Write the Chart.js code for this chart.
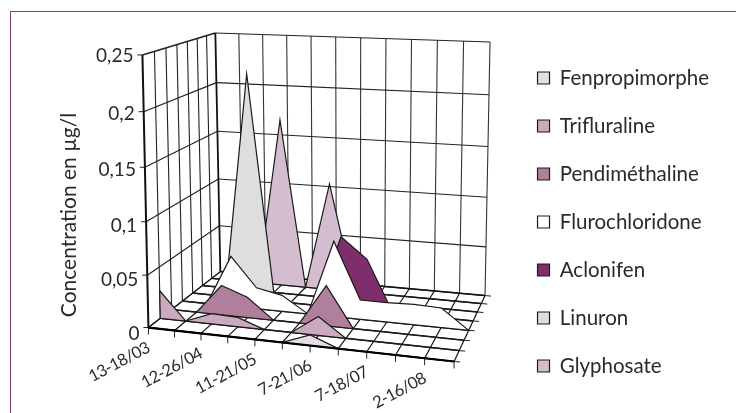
<!DOCTYPE html>
<html>
<head>
<meta charset="utf-8">
<style>
  body { margin: 0; background: #fff; }
  #frame { position: absolute; left: 10px; top: 11px; right: 0; bottom: -2px; border-left: 1px solid #8e3d7e; border-top: 1px solid #8e3d7e; }
  canvas { position: absolute; left: 0; top: 0; }
</style>
<script src="https://cdn.jsdelivr.net/npm/chart.js@4/dist/chart.umd.min.js"></script>
</head>
<body>
<div id="frame"></div>
<canvas id="chart" width="736" height="413"></canvas>
<script>
const categoryLabels = ['13-18/03', '', '12-26/04', '', '11-21/05', '', '7-21/06', '', '7-18/07', '', '2-16/08', ''];
const valueTicks = [0, 0.05, 0.1, 0.15, 0.2, 0.25];
const valueTickLabels = ['0', '0,05', '0,1', '0,15', '0,2', '0,25'];

const seriesNames = ['Fenpropimorphe', 'Trifluraline', 'Pendiméthaline', 'Flurochloridone', 'Aclonifen', 'Linuron', 'Glyphosate'];
const seriesColors = ['#e8dce6', '#cba9bf', '#b07f9e', '#ffffff', '#7e2f6b', '#dedede', '#d5bdd0'];

const fenpropimorphe = [0, 0, 0, 0, 0, 0, 0.01, 0, 0, 0, 0, 0];
const trifluraline = [0.027, 0, 0.01, 0.009, 0, 0, 0.018, 0, 0, 0, 0, 0];
const pendimethaline = [0, 0, 0.029, 0.02, 0, 0, 0.039, 0, 0, 0, 0, 0];
const flurochloridone = [0, 0, 0.05, 0.021, 0.016, 0, 0.074, 0.019, 0.019, 0.02, 0.019, 0];
const aclonifen = [0, 0, 0, 0, 0, 0, 0.071, 0.051, 0, 0, 0, 0];
const linuron = [0, 0, 0.218, 0, 0, 0, 0, 0, 0, 0, 0, 0];
const glyphosate = [0, 0, 0, 0.17, 0, 0.109, 0, 0, 0, 0, 0, 0];
const seriesValues = [fenpropimorphe, trifluraline, pendimethaline, flurochloridone, aclonifen, linuron, glyphosate];

const maxValue = 0.25;
const nCat = categoryLabels.length;
const nSer = seriesNames.length;

// box corners on the page: front-left, front-right, back-right, back-left
const floorCorners = [[148, 328], [454, 362], [485, 296], [220, 272]];
const topCorners = [[142, 55], [458, 76], [490, 42], [215, 33]];

function corner(q, u, v) {
    const lerp = (a, b, t) => a + (b - a) * t;
    return [0, 1].map(i => lerp(lerp(q[0][i], q[1][i], u), lerp(q[3][i], q[2][i], u), v));
}

// slight perspective squeeze on each of the three directions
function project(cat, depth, value) {
    let u = cat / (nCat - 1), v = depth / nSer, t = value / maxValue;
    u = u - 0.066 * u * (1 - u);
    v = v + 0.18 * v * (1 - v);
    t = t - 0.05 * t * (1 - t);
    const a = corner(floorCorners, u, v), b = corner(topCorners, u, v);
    return { x: a[0] + (b[0] - a[0]) * t, y: a[1] + (b[1] - a[1]) * t };
}

const datasets = seriesNames.map((name, s) => {
    const pts = [project(0, s, 0)];
    seriesValues[s].forEach((val, c) => pts.push(project(c, s, val)));
    pts.push(project(nCat - 1, s, 0), project(0, s, 0));
    return {
        label: name,
        data: pts,
        showLine: true,
        fill: 'shape',
        backgroundColor: seriesColors[s],
        borderColor: '#1a1a1a',
        borderWidth: 1.2,
        pointRadius: 0,
        tension: 0,
        clip: false
    };
});

const boxPlugin = {
    id: 'box3d',
    beforeDatasetsDraw(chart) {
        const ctx = chart.ctx, sx = chart.scales.x, sy = chart.scales.y;
        const seg = (a, b, w, col) => {
            ctx.beginPath();
            ctx.lineWidth = w;
            ctx.strokeStyle = col || '#222';
            ctx.moveTo(sx.getPixelForValue(a.x), sy.getPixelForValue(a.y));
            ctx.lineTo(sx.getPixelForValue(b.x), sy.getPixelForValue(b.y));
            ctx.stroke();
        };
        ctx.save();
        // back wall and left wall
        for (let c = 1; c < nCat; c++) seg(project(c, nSer, 0), project(c, nSer, maxValue), 1.1, '#333');
        for (let s = 1; s < nSer; s++) seg(project(0, s, 0), project(0, s, maxValue), 1.1, '#222');
        valueTicks.forEach(val => {
            seg(project(0, 0, val), project(0, nSer, val), val === maxValue ? 1.5 : 1.1);
            seg(project(0, nSer, val), project(nCat - 1, nSer, val), 1.1, '#222');
            const p = project(0, 0, val);
            seg({ x: p.x - 5, y: p.y }, p, 1);
        });
        seg(project(0, nSer, 0), project(0, nSer, maxValue), 1.8, '#111');
        seg(project(0, 0, 0), project(0, 0, maxValue), 2, '#111');
        // floor
        for (let c = 0; c < nCat; c++) {
            seg(project(c, 0, 0), project(c, nSer, 0), 1.2, '#111');
            const p = project(c, 0, 0);
            seg(p, { x: p.x, y: p.y + 7 }, 1);
        }
        for (let s = 0; s <= nSer; s++) {
            const end = project(nCat - 1, s, 0);
            seg(project(0, s, 0), end, 1.5, '#111');
            seg(end, { x: end.x + 6, y: end.y + 0.5 }, 1);
        }
        ctx.restore();
    },
    afterDatasetsDraw(chart) {
        const ctx = chart.ctx, sx = chart.scales.x, sy = chart.scales.y;
        ctx.save();
        // front axis stays on top of the areas sitting on it
        const a = project(0, 0, 0), b = project(nCat - 1, 0, 0);
        ctx.beginPath();
        ctx.lineWidth = 2.2;
        ctx.strokeStyle = '#000';
        ctx.moveTo(sx.getPixelForValue(a.x), sy.getPixelForValue(a.y));
        ctx.lineTo(sx.getPixelForValue(b.x), sy.getPixelForValue(b.y));
        ctx.stroke();

        ctx.fillStyle = '#2a2a2a';
        ctx.font = '19px Lato';
        ctx.textAlign = 'right';
        ctx.textBaseline = 'middle';
        valueTicks.forEach((val, i) => {
            const p = project(0, 0, val);
            ctx.fillText(valueTickLabels[i], sx.getPixelForValue(p.x) - 9, sy.getPixelForValue(p.y) + 6 - 20 * val);
        });
        ctx.font = '16.5px Lato';
        ctx.letterSpacing = '-0.6px';
        categoryLabels.forEach((lab, c) => {
            if (!lab) return;
            const p = project(c, 0, 0);
            ctx.save();
            ctx.translate(sx.getPixelForValue(p.x), sy.getPixelForValue(p.y) + 19);
            ctx.rotate(-28 * Math.PI / 180);
            ctx.fillText(lab, 0, 0);
            ctx.restore();
        });
        ctx.letterSpacing = '0px';
        ctx.save();
        ctx.translate(69, 215);
        ctx.rotate(-Math.PI / 2);
        ctx.textAlign = 'center';
        ctx.font = '21px Lato';
        ctx.fillText('Concentration en µg/l', 0, 0);
        ctx.restore();
        ctx.restore();
    }
};

const chart = new Chart(document.getElementById('chart'), {
    type: 'scatter',
    data: { datasets },
    plugins: [boxPlugin],
    options: {
        responsive: false,
        animation: false,
        layout: { padding: { top: 31, right: 17 } },
        scales: {
            x: { type: 'linear', display: false, min: 0, max: 1 },
            y: { type: 'linear', display: false, min: 0, max: 1, reverse: true }
        },
        plugins: {
            tooltip: { enabled: false },
            legend: {
                position: 'right',
                labels: {
                    boxWidth: 12,
                    boxHeight: 12,
                    padding: 27.5,
                    color: '#2a2a2a',
                    font: { family: 'Lato', size: 20.5 }
                }
            }
        }
    }
});

// page pixels are the data units of the hidden scales
const area = chart.chartArea;
chart.options.scales.x.min = area.left;
chart.options.scales.x.max = area.right;
chart.options.scales.y.min = area.top;
chart.options.scales.y.max = area.bottom;
chart.update('none');
</script>
</body>
</html>
